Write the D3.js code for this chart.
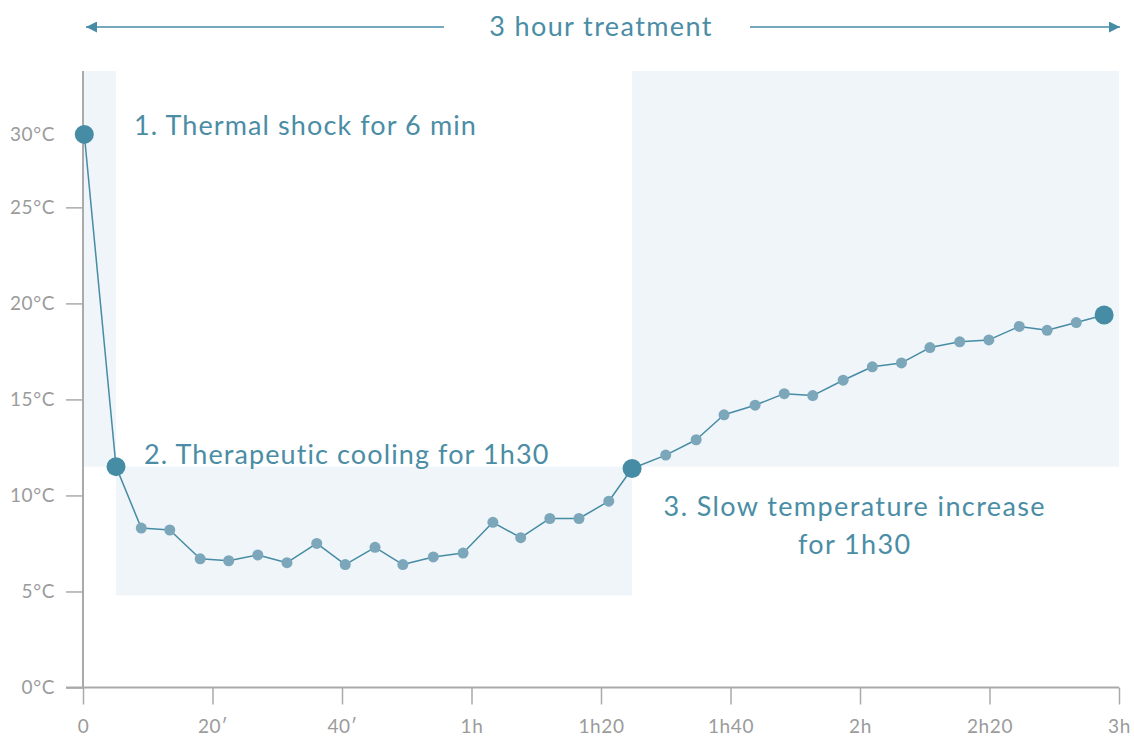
<!DOCTYPE html>
<html>
<head>
<meta charset="utf-8">
<script src="https://cdn.jsdelivr.net/npm/d3@7"></script>
<style>
    body { margin: 0; background: #fff; }
    #chart { width: 1134px; height: 736px; }
    text { font-family: Lato, "Open Sans", sans-serif; }
</style>
</head>
<body>
<div id="chart"></div>
<script>
// time in minutes, temperature in °C
const minutes = [0.2, 5.1, 9.0, 13.4, 18.1, 22.5, 27.0, 31.5, 36.1, 40.5, 45.1, 49.4, 54.1, 58.7, 63.3, 67.6, 72.1, 76.6, 81.2, 84.8,
    90.0, 94.7, 99.0, 103.8, 108.3, 112.7, 117.4, 121.9, 126.4, 130.8, 135.4, 139.9, 144.6, 148.9, 153.4, 157.7];
const temps = [28.8, 11.5, 8.3, 8.2, 6.7, 6.6, 6.9, 6.5, 7.5, 6.4, 7.3, 6.4, 6.8, 7.0, 8.6, 7.8, 8.8, 8.8, 9.7, 11.4,
    12.1, 12.9, 14.2, 14.7, 15.3, 15.2, 16.0, 16.7, 16.9, 17.7, 18.0, 18.1, 18.8, 18.6, 19.0, 19.4];
const keyPoints = [0, 1, 19, 35];

const xTicks = [0, 20, 40, 60, 80, 100, 120, 140, 160];
const xTickLabels = ['0', '20′', '40′', '1h', '1h20', '1h40', '2h', '2h20', '3h'];
const yTicks = [0, 5, 10, 15, 20, 25];
const startLabel = '30°C';

// phase shading: [start min, end min, low °C, high °C]
const phaseStart = [0, 5.1, 84.8];
const phaseEnd = [5.1, 84.8, 160];
const phaseLow = [11.5, 4.8, 11.5];
const phaseHigh = [32.1, 11.5, 32.1];

const title = '3 hour treatment';
const phaseLabels = ['1. Thermal shock for 6 min', '2. Therapeutic cooling for 1h30', '3. Slow temperature increase', 'for 1h30'];

const element = document.getElementById('chart');
const width = 1134;
const height = 736;
const margin = {top: 71, bottom: 48.5, left: 83, right: 15};
const w = width - margin.left - margin.right;
const h = height - margin.top - margin.bottom;

const teal = '#468ca4';
const grey = '#aaaaaa';

const x = d3.scaleLinear().domain([0, 160]).range([0, w]);
const y = d3.scaleLinear().domain([0, 32.1]).range([h, 0]);

const svg = d3.select(element)
    .append('svg')
    .attr('width', width)
    .attr('height', height);

const g = svg.append('g')
    .attr('transform', `translate(${margin.left},${margin.top})`);

// shaded phases
g.selectAll('rect.phase')
    .data(phaseStart)
    .enter()
    .append('rect')
    .attr('class', 'phase')
    .attr('x', (d, i) => x(d))
    .attr('width', (d, i) => x(phaseEnd[i]) - x(d))
    .attr('y', (d, i) => y(phaseHigh[i]))
    .attr('height', (d, i) => y(phaseLow[i]) - y(phaseHigh[i]))
    .attr('fill', '#eff5f8');

// axes
const xAxis = d3.axisBottom(x)
    .tickValues(xTicks)
    .tickFormat((d, i) => xTickLabels[i])
    .tickSize(17)
    .tickPadding(15);

const yAxis = d3.axisLeft(y)
    .tickValues(yTicks)
    .tickFormat(d => d + '°C')
    .tickSize(17)
    .tickPadding(11);

const gx = g.append('g')
    .attr('class', 'x axis')
    .attr('transform', `translate(0,${h})`)
    .call(xAxis);

const gy = g.append('g')
    .attr('class', 'y axis')
    .call(yAxis);

const tickText = sel => sel
    .attr('fill', '#9b9b9b')
    .style('font-size', '19px')
    .style('letter-spacing', '0.6px')
    .style('font-family', 'Lato, sans-serif');

[gx, gy].forEach(a => {
    a.select('.domain').attr('stroke', grey).attr('stroke-width', 2);
    a.selectAll('.tick line').attr('stroke', grey).attr('stroke-width', 1.5);
    a.selectAll('.tick text').call(tickText);
});
gx.select('.domain').attr('d', `M${-17},0H${w}`);
gy.select('.domain').attr('d', `M0,0V${h}`);

g.append('text')
    .attr('x', -28)
    .attr('y', y(temps[0]))
    .attr('dy', '0.36em')
    .attr('text-anchor', 'end')
    .call(tickText)
    .text(startLabel);

// line
const points = minutes.map((m, i) => [m, temps[i]]);
const line = d3.line()
    .x(d => x(d[0]))
    .y(d => y(d[1]));

g.append('path')
    .datum(points)
    .attr('fill', 'none')
    .attr('stroke', teal)
    .attr('stroke-width', 1.5)
    .attr('stroke-linejoin', 'round')
    .attr('d', line);

g.selectAll('circle.small')
    .data(points.filter((d, i) => !keyPoints.includes(i)))
    .enter()
    .append('circle')
    .attr('class', 'small')
    .attr('cx', d => x(d[0]))
    .attr('cy', d => y(d[1]))
    .attr('r', 5.5)
    .attr('fill', '#7ca6ba');

g.selectAll('circle.key')
    .data(keyPoints.map(i => points[i]))
    .enter()
    .append('circle')
    .attr('class', 'key')
    .attr('cx', d => x(d[0]))
    .attr('cy', d => y(d[1]))
    .attr('r', 9.5)
    .attr('fill', teal);

// phase labels
const labelStyle = sel => sel
    .attr('fill', '#4a8da5')
    .style('font-size', '27px')
    .style('letter-spacing', '1.1px');

g.append('text')
    .attr('x', x(phaseEnd[0]) + 18)
    .attr('y', y(temps[0]) + 1)
    .call(labelStyle)
    .text(phaseLabels[0]);

g.append('text')
    .attr('x', x(phaseStart[1]) + 28)
    .attr('y', y(phaseLow[2]) - 3)
    .call(labelStyle)
    .text(phaseLabels[1]);

g.append('text')
    .attr('x', x(119.2))
    .attr('y', y(phaseLow[2]) + 49)
    .attr('text-anchor', 'middle')
    .call(labelStyle)
    .style('letter-spacing', '1.4px')
    .text(phaseLabels[2]);

g.append('text')
    .attr('x', x(119.2))
    .attr('y', y(phaseLow[2]) + 87)
    .attr('text-anchor', 'middle')
    .call(labelStyle)
    .style('letter-spacing', '1.4px')
    .text(phaseLabels[3]);

// title with arrows
const arrowY = 27;
const mid = x(80) + margin.left;

svg.append('defs').append('marker')
    .attr('id', 'head')
    .attr('viewBox', '0 0 10 10')
    .attr('refX', 10)
    .attr('refY', 5)
    .attr('markerWidth', 15)
    .attr('markerHeight', 11)
    .attr('markerUnits', 'userSpaceOnUse')
    .attr('orient', 'auto')
    .append('path')
    .attr('d', 'M0,0L10,5L0,10Z')
    .attr('fill', teal);

svg.append('line')
    .attr('x1', mid - 157).attr('x2', margin.left + 3)
    .attr('y1', arrowY).attr('y2', arrowY)
    .attr('stroke', teal)
    .attr('stroke-width', 1.5)
    .attr('marker-end', 'url(#head)');

svg.append('line')
    .attr('x1', mid + 149).attr('x2', margin.left + w + 1)
    .attr('y1', arrowY).attr('y2', arrowY)
    .attr('stroke', teal)
    .attr('stroke-width', 1.5)
    .attr('marker-end', 'url(#head)');

svg.append('text')
    .attr('x', mid)
    .attr('y', arrowY)
    .attr('dy', '0.35em')
    .attr('text-anchor', 'middle')
    .call(labelStyle)
    .style('letter-spacing', '1.4px')
    .text(title);
</script>
</body>
</html>
